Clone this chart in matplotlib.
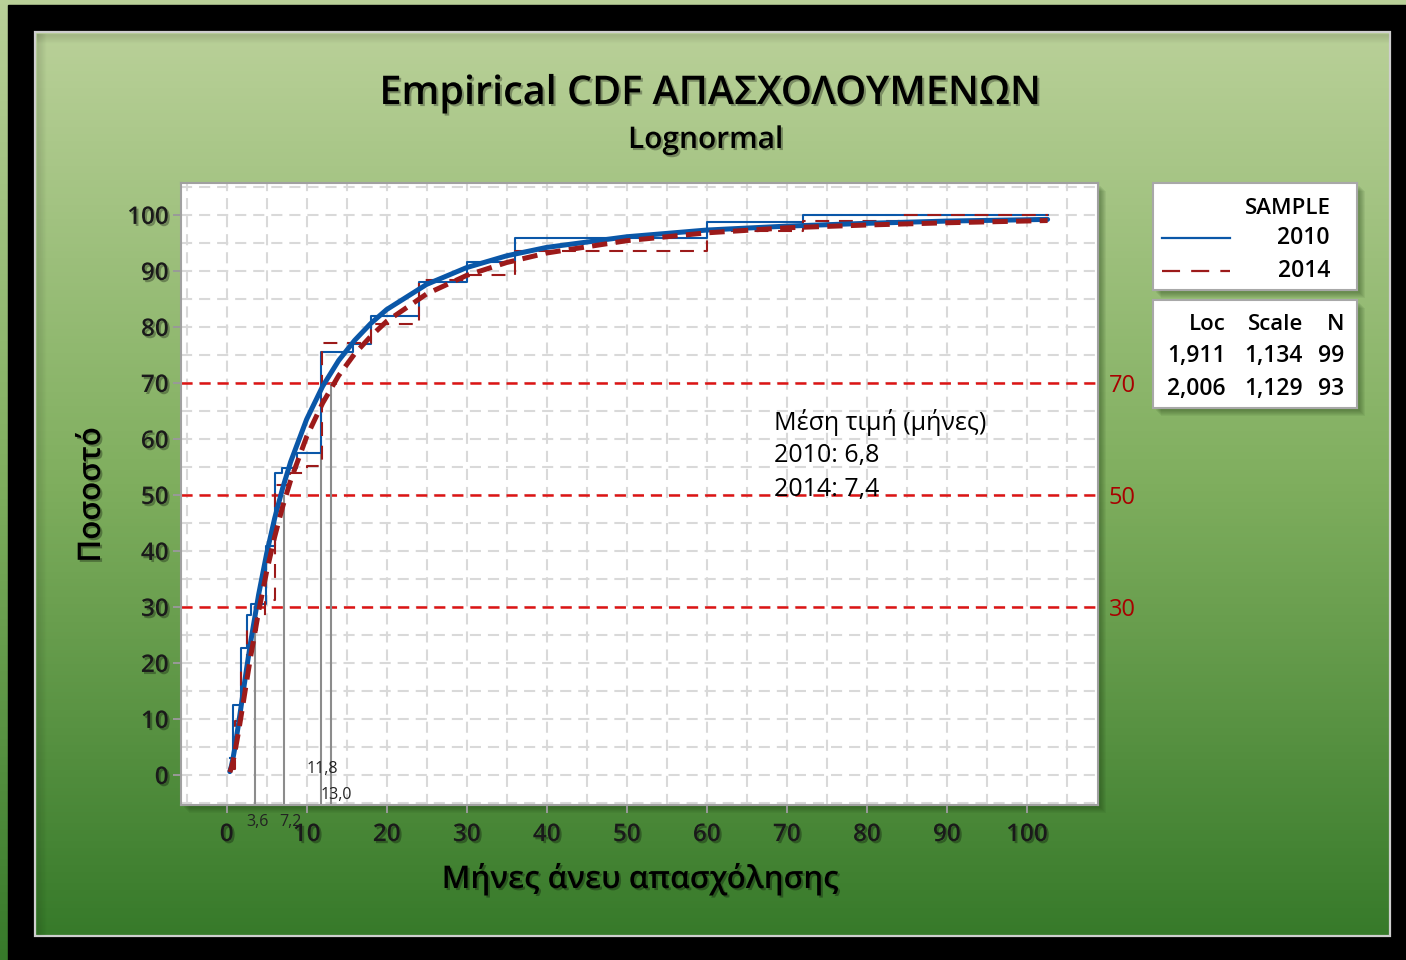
import matplotlib
matplotlib.use("Agg")
import matplotlib.pyplot as plt
import matplotlib.patheffects as pe
from matplotlib.patches import Rectangle
from matplotlib.lines import Line2D
from matplotlib.ticker import MultipleLocator
import numpy as np

plt.rcParams['font.family'] = ['Open Sans', 'DejaVu Sans']
plt.rcParams['lines.scale_dashes'] = False

# fitted lognormal curves (% cumulative)
fit_x = [0.4, 0.6, 0.8, 1, 1.5, 2, 2.5, 3, 4, 5, 6, 7, 8, 10, 12, 14, 16, 18, 20,
         25, 30, 35, 40, 50, 60, 70, 80, 90, 102.6]
fit_2010 = [0.6, 1.6, 3.0, 4.6, 9.2, 14.1, 19.0, 23.7, 32.2, 39.5, 45.8, 51.2, 55.9, 63.5,
            69.4, 74.0, 77.6, 80.6, 83.1, 87.6, 90.6, 92.7, 94.2, 96.1, 97.3, 98.0, 98.5,
            98.9, 99.2]
fit_2014 = [0.5, 1.3, 2.4, 3.8, 7.8, 12.2, 16.7, 21.1, 29.2, 36.3, 42.5, 47.9, 52.6, 60.4,
            66.4, 71.3, 75.2, 78.3, 81.0, 85.9, 89.2, 91.5, 93.2, 95.4, 96.8, 97.7, 98.2,
            98.6, 99.0]

# empirical step functions
ecdf_x_2010 = [0.4, 0.8, 1.8, 2.6, 3.1, 4.9, 6.0, 6.9, 8.8, 11.8, 15.8, 18, 24, 30, 36, 60, 72, 102.6]
ecdf_y_2010 = [3.0, 12.5, 22.6, 28.6, 30.6, 40.8, 53.9, 54.8, 57.5, 75.6, 77.0, 82.0, 88.0, 91.6,
               95.8, 98.8, 100, 100]
ecdf_x_2014 = [0.4, 1.0, 1.8, 2.6, 3.8, 4.8, 6.0, 7.9, 10.1, 11.9, 18, 24, 30, 36, 60, 72, 84, 102.6]
ecdf_y_2014 = [1.1, 9.7, 19.4, 25.8, 28.0, 31.2, 51.8, 53.9, 55.2, 77.2, 80.6, 88.3, 89.2, 93.5,
               97.2, 98.9, 100, 100]

# reference percentiles and the drop lines
ref_levels = [30, 50, 70]
drop_x = [3.6, 7.2, 11.8, 13.0]
drop_level = [30, 50, 70, 70]
drop_labels = ['3,6', '7,2', '11,8', '13,0']

samples = ['2010', '2014']
loc = ['1,911', '2,006']
scale = ['1,134', '1,129']
n_obs = ['99', '93']
mean_months = ['6,8', '7,4']

BLUE = '#0a57a8'
DRED = '#9c1a1a'
REF = '#dd1414'
shadow = [pe.SimplePatchShadow(offset=(1.5, -1.5), shadow_rgbFace='k', alpha=0.3), pe.Normal()]

fig = plt.figure(figsize=(14.06, 9.6), dpi=100)
fig.patch.set_facecolor('black')

# background in pixel coordinates
bg = fig.add_axes([0, 0, 1, 1], zorder=-1)
bg.set_xlim(0, 1406)
bg.set_ylim(960, 0)
bg.axis('off')
grad = np.linspace(0, 1, 256).reshape(-1, 1)
cmap = matplotlib.colors.LinearSegmentedColormap.from_list('g', ['#b9d098', '#7fae5e', '#377a2a'])
bg.imshow(grad, extent=[0, 1406, 960, 0], cmap=cmap, aspect='auto')
bg.add_patch(Rectangle((8, 5), 1406, 960, color='black'))
bg.imshow(grad, extent=[35, 1390, 936, 32], cmap=cmap, aspect='auto', zorder=2)
bg.add_patch(Rectangle((35, 32), 1355, 904, fill=False, ec='#cfcfcf', lw=1.6, zorder=3))
for i in range(9):
    a = 0.09 * (9 - i) / 9
    bg.plot([37, 1388], [34 + i, 34 + i], color='k', alpha=a, lw=1, zorder=3)
    bg.plot([37 + i, 37 + i], [34, 934], color='k', alpha=a, lw=1, zorder=3)

# soft shadows behind the white boxes
for (x0, y0, w, h) in [(181, 183, 917, 622), (1153, 183, 204, 107), (1153, 300, 204, 108)]:
    for k in range(6):
        bg.add_patch(Rectangle((x0 + 3 + k, y0 + 3 + k), w, h, color='#1d3d12', alpha=0.07, lw=0, zorder=4))

# legend boxes
bg.add_patch(Rectangle((1153, 183), 204, 107, fc='white', ec='#a8a8a8', lw=1.5, zorder=5))
bg.add_patch(Rectangle((1153, 300), 204, 108, fc='white', ec='#a8a8a8', lw=1.5, zorder=5))
bg.text(1331, 208, 'SAMPLE', ha='right', va='center', fontsize=16, fontweight='semibold', zorder=6)
bg.add_line(Line2D([1162, 1230], [238, 238], color=BLUE, lw=1.6, zorder=6))
bg.add_line(Line2D([1162, 1230], [271, 271], color=DRED, lw=1.6, dashes=(13, 8), zorder=6))
for s, yy in zip(samples, [238, 271]):
    bg.text(1330, yy, s, ha='right', va='center', fontsize=16.5, fontweight='semibold', zorder=6)
for hdr, xx in zip(['Loc', 'Scale', 'N'], [1226, 1303, 1344]):
    bg.text(xx, 325, hdr, ha='right', va='center', fontsize=16, fontweight='semibold', zorder=6)
for i, yy in enumerate([356, 389]):
    for val, xx in zip([loc[i], scale[i], n_obs[i]], [1226, 1303, 1344]):
        bg.text(xx, yy, val, ha='right', va='center', fontsize=16.5, fontweight='semibold', zorder=6)

# main axes
ax = fig.add_axes([181 / 1406, 1 - 805 / 960, 917 / 1406, 622 / 960])
ax.set_facecolor('white')
ax.set_xlim(-5.7, 108.9)
ax.set_ylim(-5.36, 105.7)
ax.xaxis.set_major_locator(MultipleLocator(10))
ax.yaxis.set_major_locator(MultipleLocator(10))
ax.xaxis.set_minor_locator(MultipleLocator(5))
ax.yaxis.set_minor_locator(MultipleLocator(5))
ax.grid(True, which='both', color='#d9d9d9', lw=1.5, dashes=(8, 5))
ax.set_axisbelow(True)
ax.tick_params(which='major', direction='out', length=6, width=1.4, color='#999999',
               labelsize=17.5)
ax.tick_params(axis='x', which='major', pad=7)
ax.tick_params(axis='y', which='major', pad=3)
ax.tick_params(which='minor', length=0)
for lab in ax.get_xticklabels() + ax.get_yticklabels():
    lab.set_fontweight('semibold')
    lab.set_color('#1a1a1a')
    lab.set_path_effects(shadow)
for sp in ax.spines.values():
    sp.set_color('#a0a0a0')
    sp.set_linewidth(1.5)

for lv in ref_levels:
    ax.axhline(lv, color=REF, lw=1.8, dashes=(8, 5), zorder=2)
    ax.text(111.9, lv - 0.6, str(lv), color='#a80000', fontsize=17, ha='center', va='center',
            clip_on=False)

ybot = ax.get_ylim()[0]
ax.vlines(drop_x, ybot, drop_level, color='#8c8c8c', lw=1.5, zorder=2)
lab_pos = [(3.9, -8.4), (8.0, -8.4), (11.9, 1.1), (13.7, -3.6)]
for txt, (lx, ly) in zip(drop_labels, lab_pos):
    ax.text(lx, ly, txt, fontsize=11.5, ha='center', va='center', color='#222222', clip_on=False)

ax.step(ecdf_x_2010, ecdf_y_2010, where='post', color=BLUE, lw=1.5, zorder=3)
ax.step(ecdf_x_2014, ecdf_y_2014, where='post', color=DRED, lw=1.5, dashes=(10, 7), zorder=3)
ax.plot(fit_x, fit_2010, color=BLUE, lw=3.6, zorder=4, solid_capstyle='round')
ax.plot(fit_x, fit_2014, color=DRED, lw=3.6, dashes=(11, 6), zorder=5)

ax.text(68.4, 62.9, 'Μέση τιμή (μήνες)', fontsize=18, va='center', ha='left')
for i, (s, m) in enumerate(zip(samples, mean_months)):
    ax.text(68.4, 57.0 - 6.1 * i, f'{s}: {m}', fontsize=18, va='center', ha='left')

fig.text(0.5057, 1 - 94 / 960, 'Empirical CDF ΑΠΑΣΧΟΛΟΥΜΕΝΩΝ', ha='center', va='center',
         fontsize=28.5, fontweight='semibold', path_effects=shadow)
fig.text(0.502, 1 - 140 / 960, 'Lognormal', ha='center', va='center', fontsize=21.5,
         fontweight='semibold', path_effects=shadow)
fig.text(640 / 1406, 1 - 879 / 960, 'Μήνες άνευ απασχόλησης', ha='center', va='center',
         fontsize=22.5, fontweight='semibold', path_effects=shadow)
fig.text(92 / 1406, 1 - 495 / 960, 'Ποσοστό', ha='center', va='center', rotation=90,
         fontsize=22.5, fontweight='semibold', path_effects=shadow)

fig.savefig('out.png', dpi=100, facecolor=fig.get_facecolor())
